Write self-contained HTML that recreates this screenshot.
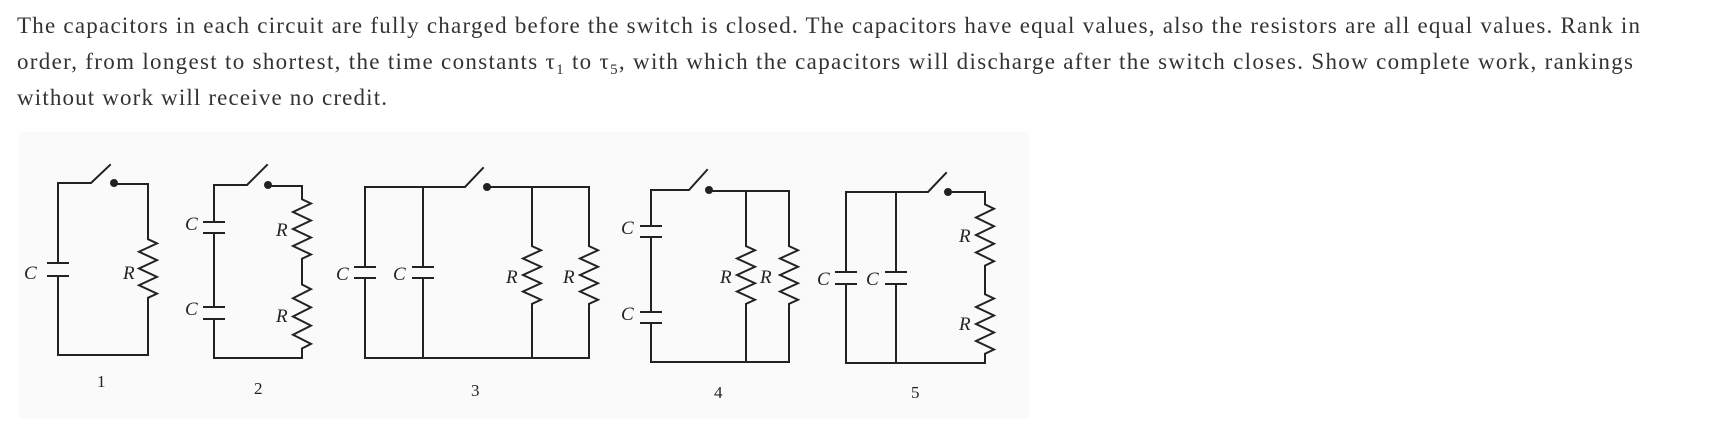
<!DOCTYPE html>
<html><head><meta charset="utf-8"><style>
html,body{margin:0;padding:0;background:#fff;}
svg{display:block;}
.t{font-family:"Liberation Serif",serif;font-size:23px;fill:#333;}
.l{font-family:"Liberation Serif",serif;font-style:italic;font-size:19px;fill:#222;}
.n{font-family:"Liberation Serif",serif;font-size:17px;fill:#222;}
</style></head><body>
<svg id="s" width="1733" height="437" viewBox="0 0 1733 437" xmlns="http://www.w3.org/2000/svg">
<text class="t" x="17" y="33" textLength="1623" lengthAdjust="spacing">The capacitors in each circuit are fully charged before the switch is closed. The capacitors have equal values, also the resistors are all equal values. Rank in</text>
<text class="t" x="17" y="69" textLength="1616" lengthAdjust="spacing">order, from longest to shortest, the time constants τ<tspan font-size="15" dy="5">1</tspan><tspan dy="-5"> to τ</tspan><tspan font-size="15" dy="5">5</tspan><tspan dy="-5">, with which the capacitors will discharge after the switch closes. Show complete work, rankings</tspan></text>
<text class="t" x="17" y="105" textLength="370" lengthAdjust="spacing">without work will receive no credit.</text>
<rect x="19" y="132" width="1010" height="286" fill="#fafafa"/>
<g id="g" stroke="#222" stroke-width="2" fill="none" stroke-linecap="square"></g>
<g>
<text class="l" x="24" y="279">C</text><text class="l" x="123" y="279">R</text>
<text class="l" x="185" y="230">C</text><text class="l" x="185" y="315">C</text>
<text class="l" x="276" y="236">R</text><text class="l" x="276" y="322">R</text>
<text class="l" x="336" y="280">C</text><text class="l" x="393" y="280">C</text>
<text class="l" x="506" y="283">R</text><text class="l" x="563" y="283">R</text>
<text class="l" x="621" y="234">C</text><text class="l" x="621" y="320">C</text>
<text class="l" x="720" y="283">R</text><text class="l" x="760" y="283">R</text>
<text class="l" x="817" y="285">C</text><text class="l" x="866" y="285">C</text>
<text class="l" x="959" y="242">R</text><text class="l" x="959" y="330">R</text>
<text class="n" x="97" y="387">1</text><text class="n" x="254" y="394">2</text>
<text class="n" x="471" y="396">3</text><text class="n" x="714" y="398">4</text>
<text class="n" x="911" y="398">5</text>
</g>
</svg>
<script>
var g=document.getElementById('g'),o='';
function L(p){o+='<polyline points="'+p.map(function(a){return a.join(',')}).join(' ')+'"/>';}
function res(x,y1,y2){var p=[[x,y1]],n=7,h=(y2-y1)/(n+1);p.push([x,y1+h*0.5]);for(var i=0;i<n;i++){p.push([x+(i%2?-9:9),y1+h*(i+1)]);}p.push([x,y2-h*0.5]);p.push([x,y2]);L(p);}
function cap(x,y,y2){L([[x-10,y],[x+10,y]]);L([[x-10,y2],[x+10,y2]]);}
function sw(x0,x1,yt,bx,by,dx){L([[x0,yt],[x1,yt],[bx,by]]);o+='<circle cx="'+dx+'" cy="'+yt+'" r="3" fill="#222"/>';}
sw(58,91,183,110,165,114);
L([[58,183],[58,263]]);cap(58,263,276);L([[58,276],[58,355],[148,355],[148,302]]);
L([[114,184],[148,184],[148,235]]);res(148,235,302);
sw(214,247,185,267,165,268);
L([[214,185],[214,222]]);cap(214,222,233);L([[214,233],[214,307]]);cap(214,307,319);L([[214,319],[214,358],[302,358],[302,353]]);
L([[268,186],[302,186],[302,195]]);res(302,195,263);L([[302,263],[302,280]]);res(302,280,353);
sw(365,465,187,483,168,487);
L([[365,187],[365,267]]);cap(365,267,278);L([[365,278],[365,358],[589,358]]);
L([[423,187],[423,267]]);cap(423,267,278);L([[423,278],[423,358]]);
L([[487,187],[589,187],[589,242]]);L([[532,187],[532,242]]);
res(532,242,308);res(589,242,308);L([[532,308],[532,358]]);L([[589,308],[589,358]]);
sw(651,689,190,707,170,709);
L([[651,190],[651,226]]);cap(651,226,237);L([[651,237],[651,312]]);cap(651,312,323);L([[651,323],[651,362],[789,362]]);
L([[709,191],[789,191],[789,242]]);L([[746,191],[746,242]]);
res(746,242,308);res(789,242,308);L([[746,308],[746,362]]);L([[789,308],[789,362]]);
sw(846,928,192,946,173,948);
L([[846,192],[846,272]]);cap(846,272,284);L([[846,284],[846,363],[985,363],[985,358]]);
L([[896,192],[896,272]]);cap(896,272,284);L([[896,284],[896,363]]);
L([[948,192],[985,192],[985,200]]);res(985,200,270);L([[985,270],[985,290]]);res(985,290,358);
g.innerHTML=o;
</script>
</body></html>
